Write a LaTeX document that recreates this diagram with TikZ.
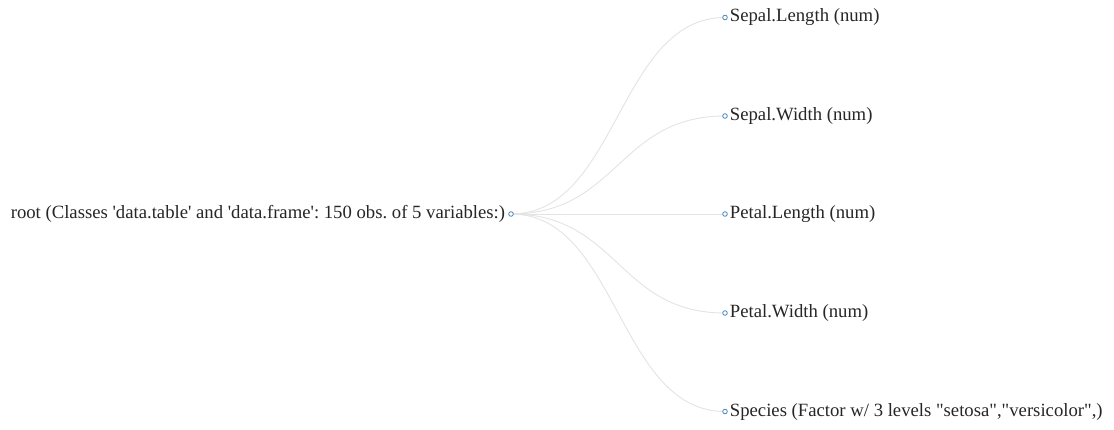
\documentclass[tikz,border=0pt]{standalone}
\usepackage{fontspec}
\setmainfont{Liberation Serif}
\usetikzlibrary{positioning}
\definecolor{linkgray}{HTML}{E3E3E3}
\definecolor{steelblue}{HTML}{4682B4}
\tikzset{link/.style = {draw=linkgray, line width=0.9pt}}
\tikzset{dot/.style = {circle, draw=steelblue, fill=white, line width=0.8pt, inner sep=0pt, minimum size=4.6pt}}
\tikzset{lbl/.style = {inner sep=0pt, font=\fontsize{18.7}{22}\selectfont\frenchspacing, text=black!85}}
\newcommand{\sq}{\textquotesingle}
\newcommand{\dq}{\textquotedbl}

\begin{document}
\begin{tikzpicture}[x=1pt, y=-1pt]
	\def\RX{511}
	\def\CX{725}
	\useasboundingbox (0,0) rectangle (1114,429);
	
	\coordinate (root) at (\RX,214);
	\coordinate (mid) at ({(\RX+\CX)/2},0);
	\foreach \n/\y in {c1/17.5, c2/116, c3/214, c4/313, c5/411.5}
		\coordinate (\n) at (\CX,\y);
	
	\foreach \n in {c1,c2,c3,c4,c5}
		\draw[link]	(root) .. controls (mid |- root) and (mid |- \n) .. (\n);
	
	\node[dot] (rootdot) at (root) {};
	\node[lbl, left=3pt of rootdot] (rootlbl) {root (Classes \sq data.table\sq\ and \sq data.frame\sq: 150 obs. of 5 variables:)};
	
	\node[dot] (d1) at (c1) {};
	\node[lbl, right=2pt of d1] (l1) {Sepal.Length (num)};
	\node[dot] (d2) at (c2) {};
	\node[lbl, right=2pt of d2] (l2) {Sepal.Width (num)};
	\node[dot] (d3) at (c3) {};
	\node[lbl, right=2pt of d3] (l3) {Petal.Length (num)};
	\node[dot] (d4) at (c4) {};
	\node[lbl, right=2pt of d4] (l4) {Petal.Width (num)};
	\node[dot] (d5) at (c5) {};
	\node[lbl, right=2pt of d5] (l5) {Species (Factor w/ 3 levels \dq setosa\dq,\dq versicolor\dq,)};
\end{tikzpicture}
\end{document}
